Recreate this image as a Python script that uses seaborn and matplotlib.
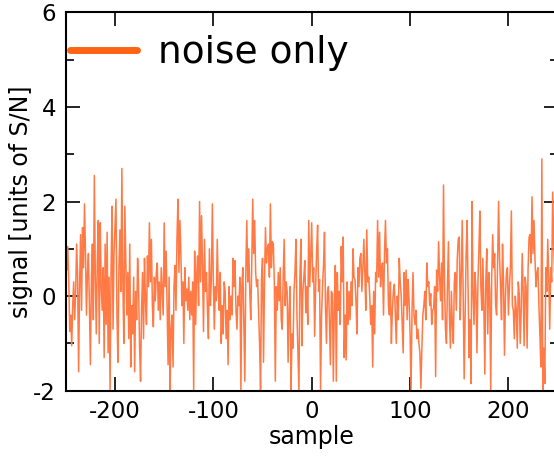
import numpy as np
import pandas as pd
import matplotlib
matplotlib.use("Agg")
import matplotlib.pyplot as plt
import seaborn as sns
from matplotlib.ticker import MultipleLocator

# ---- données (une valeur par échantillon, -250 .. 249) ----
samples = list(range(-250, 250))

noise_a = [  # -250 .. -151
    0.7, 0.55, 1.05, 0.3, -0.75, -0.4, -1.05, -0.2, 0.3, -0.5,
    0.1, 1.1, 0.4, -1.6, 0.2, 1.3, -0.3, 1.45, 0.6, 1.95,
    0.9, -0.4, 0.5, 0.9, -0.2, -1.45, 0.3, 1.1, -0.5, 2.55,
    0.4, -0.8, 0.7, 1.6, -1.0, 1.55, 0.2, -0.3, 0.6, -1.3,
    1.1, -0.6, 1.35, -1.2, 0.4, -2.0, 0.5, 1.9, -0.7, 0.9,
    1.5, 2.05, -0.4, -1.4, 0.6, 1.4, 0.1, 2.7, 0.3, -1.0,
    1.9, 0.8, -0.4, 0.5, -0.9, 1.1, -1.5, -0.2, -0.8, 0.4,
    -1.6, 0.1, -0.5, 0.8, 0.2, -1.1, -1.8, -0.3, 0.5, -0.9,
    0.8, -0.1, -0.6, 0.85, 0.2, 1.55, 0.3, 1.2, -0.2, -0.65,
    0.4, -0.1, 0.5, 0.7, -0.3, 0.3, -0.5, 0.6, 0.1, -0.4,
]
noise_b = [  # -150 .. -51
    1.55, 0.2, 0.95, -0.3, -1.45, 0.4, -2.0, -0.7, -0.4, -1.5,
    0.2, 0.65, -0.3, 1.2, 2.05, 0.5, 1.6, 0.9, -0.2, 0.3,
    -1.0, 0.6, -0.1, 0.15, -0.3, 0.4, -0.5, 0.1, -0.4, 0.3,
    -2.0, 0.95, -0.6, 0.4, 0.85, -0.2, 2.0, 0.3, 1.7, 0.6,
    -0.75, 1.2, 0.1, 0.5, -0.3, -0.9, 1.0, -0.2, 0.4, 1.95,
    0.3, -0.7, 0.2, -0.1, 1.2, 0.1, -0.3, 0.5, -1.0, -0.2,
    -0.8, 0.3, 0.1, -0.9, -0.3, -1.45, 0.2, -0.5, 0.0, -0.4,
    0.8, 0.2, 0.75, -0.3, -0.7, 0.0, -0.2, 0.4, -2.0, 0.2,
    0.6, -0.6, -1.8, 0.5, 1.6, 0.3, 1.0, 0.1, -0.5, 0.6,
    2.05, 0.9, 1.6, 0.5, 0.2, 0.35, -0.3, -1.0, -2.0, 0.4,
]
noise_c = [  # -50 .. 49
    0.8, -1.4, 0.3, 1.45, 0.7, 1.0, 1.1, 0.4, 1.95, 0.6,
    1.15, 1.1, 0.3, -1.8, 0.2, -0.3, 0.5, -0.1, 0.6, -0.5,
    -0.7, 0.4, 1.2, -0.2, 0.3, 0.1, -1.4, -0.3, 0.2, -2.0,
    -0.8, -1.1, 0.1, 0.5, 1.2, -0.4, -1.2, -2.0, 0.4, 1.2,
    -1.05, 0.1, 0.4, 0.75, -0.35, 0.2, -0.6, 1.6, 0.2, 0.9,
    1.55, 0.3, 0.6, -0.85, 0.2, 0.95, 1.5, 0.1, 0.35, -2.0,
    -0.4, 0.2, 0.65, 1.35, -0.2, -1.0, 0.1, 0.2, -0.5, -1.45,
    0.1, 0.05, -1.8, -0.2, 0.65, -1.8, 0.5, -0.3, 0.1, -0.6,
    1.05, 0.3, 1.25, -1.3, -0.4, -1.35, 0.3, -0.6, 0.1, -0.5,
    0.3, -0.2, 1.0, 0.4, 0.35, -0.1, -0.8, 0.6, 0.2, 0.8,
]
noise_d = [  # 50 .. 149
    0.9, 0.1, 0.6, 1.2, 0.5, -0.3, 1.4, 0.3, 0.4, 0.0,
    -0.6, -0.2, -1.5, 0.1, -0.8, 0.5, 0.3, 1.6, 0.4, 1.35,
    0.2, 0.6, 0.7, -0.4, 0.9, 1.6, 0.7, 1.0, -0.2, -0.4,
    0.3, -1.0, -0.3, 0.1, 0.25, -0.4, -1.0, 0.0, -0.5, 0.8,
    0.3, 0.0, -0.6, -1.2, 0.5, -0.2, 0.55, -0.5, 0.35, -0.1,
    -0.8, -2.0, -0.3, 0.5, -0.4, -0.6, -0.3, -0.9, -0.7, -1.0,
    -1.2, -1.95, -1.1, -0.4, -0.2, 0.1, -0.5, 0.7, 0.2, 0.3,
    -0.2, 0.05, -0.6, -0.3, -0.25, 0.2, -1.7, 0.55, 0.1, 1.15,
    0.4, -0.1, 0.7, -0.5, 2.35, 0.3, -0.7, -1.0, 0.2, 1.15,
    -0.4, -1.1, 0.1, -0.6, -1.0, 0.3, 0.5, -0.3, 0.8, 1.2,
]
noise_e = [  # 150 .. 249
    1.25, -0.5, 0.4, 1.6, 0.05, -1.75, -0.4, 0.9, 1.6, 0.2,
    -1.3, -0.5, -1.85, 2.0, 0.1, -0.6, 0.5, 0.1, -1.2, 0.3,
    1.0, 1.8, 0.2, -0.3, 0.8, -0.2, -1.65, 0.3, 1.0, -0.8,
    0.5, 0.1, -2.0, 0.4, 1.3, 0.6, 0.9, -0.2, -0.4, 0.7,
    2.0, 0.8, 0.2, -0.5, 1.1, 0.3, -1.25, 0.0, 0.5, 0.6,
    -0.4, 0.2, 0.6, 1.8, -0.2, -0.3, -0.9, 0.0, -0.3, -1.1,
    0.3, 0.05, -1.0, -0.3, 0.9, 0.1, -1.05, 0.4, 0.2, -1.1,
    0.6, 1.25, 1.3, 0.7, 2.1, 0.9, 1.6, 0.8, 0.2, 0.5,
    0.6, -0.2, -0.8, -1.5, 2.9, -2.0, -1.1, -1.85, 0.6, 0.1,
    1.2, 0.4, -0.7, 0.6, 0.3, 2.2, 1.1, 0.5, 1.6, 1.5,
]

signal = noise_a + noise_b + noise_c + noise_d + noise_e
df = pd.DataFrame({"sample": samples, "signal": signal})

x_ticks = [-200, -100, 0, 100, 200]
y_ticks = [-2, 0, 2, 4, 6]
line_color = "#ff7a45"
legend_color = "#ff6414"

# ---- figure ----
sns.set_theme(style="ticks")
plt.rcParams["font.family"] = ["DejaVu Sans"]
plt.rcParams["axes.unicode_minus"] = False
plt.rcParams["text.color"] = "black"
plt.rcParams["axes.labelcolor"] = "black"

fig = plt.figure(figsize=(5.54, 4.58), dpi=100)
ax = fig.add_axes([0.1188, 0.147, 0.8877, 0.826])

sns.lineplot(data=df, x="sample", y="signal", color=line_color, linewidth=1.1,
             ax=ax, label="noise only")

ax.set_xlim(-250, 250)
ax.set_ylim(-2, 6)
ax.set_xticks(x_ticks)
ax.set_yticks(y_ticks)
ax.yaxis.set_minor_locator(MultipleLocator(1))

ax.tick_params(axis="both", which="major", direction="in", length=10, width=1.2,
               top=True, right=True, labelsize=16.5, pad=7,
               colors="black", labelcolor="black")
ax.tick_params(axis="y", which="minor", direction="in", length=6, width=1.2,
               right=True, colors="black")
for sp in ax.spines.values():
    sp.set_linewidth(1.5)
    sp.set_color("black")

ax.set_xlabel("sample", fontsize=17, labelpad=1)
ax.set_ylabel("signal [units of S/N]", fontsize=17, labelpad=0)

leg = ax.legend(loc="center left", bbox_to_anchor=(0.0085, 0.892), frameon=False,
                fontsize=27, handlelength=1.79, handletextpad=0.56,
                borderpad=0, borderaxespad=0)
for h in leg.get_lines():
    h.set_linewidth(5)
    h.set_color(legend_color)
for t in leg.get_texts():
    t.set_color("black")

fig.savefig("out.png", dpi=100)
